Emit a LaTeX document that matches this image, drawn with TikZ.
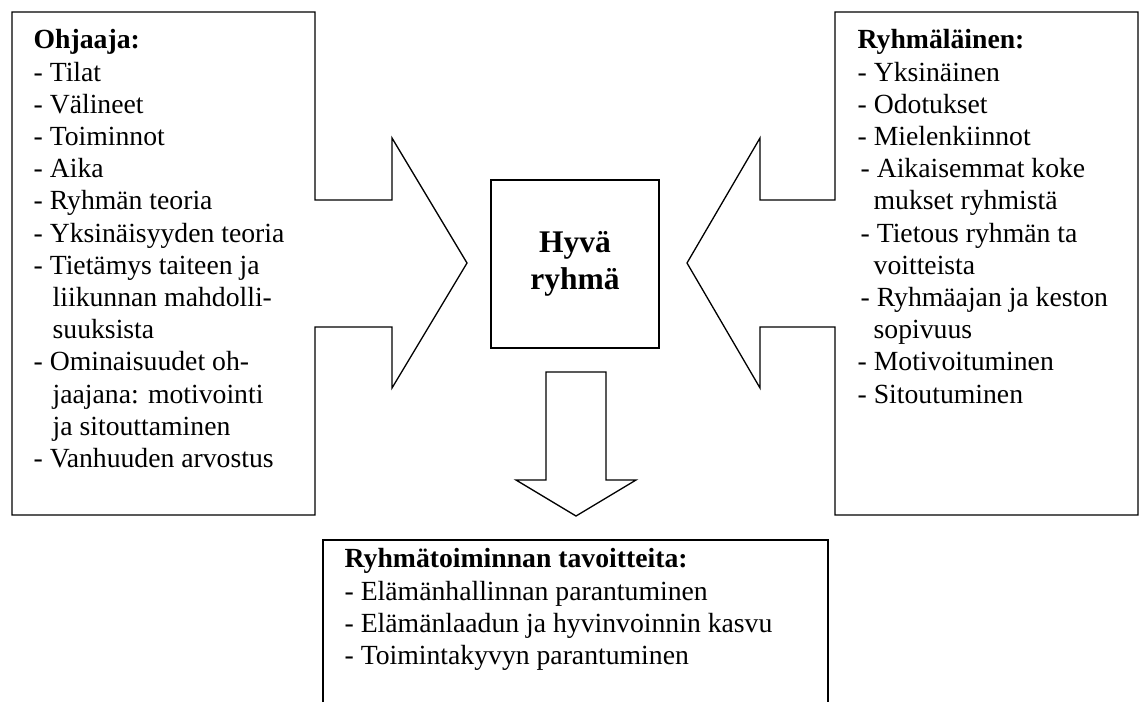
\documentclass[tikz,border=0pt]{standalone}
\usepackage{fontspec}
\setmainfont{Liberation Serif}
\begin{document}
\begin{tikzpicture}[
  x=1pt,
  y=-1pt,
  line width=1.3pt,
  every node/.style={inner sep=0pt},
  list text/.style={anchor=north west,align=left,font=\fontsize{27.7}{32.2}\selectfont},
  core box/.style={rectangle,draw,minimum width=168pt,minimum height=168pt,align=center,font=\fontsize{31.5}{37}\selectfont\bfseries},
]
\useasboundingbox (0,0) rectangle (1139,702);
\draw (12,12) -- (315,12) -- (315,200) -- (392,200) -- (392,138) -- (467,263) -- (392,388) -- (392,327) -- (315,327) -- (315,515) -- (12,515) -- cycle;
\draw (1138,12) -- (835,12) -- (835,200) -- (760,200) -- (760,138) -- (687,263) -- (760,388) -- (760,327) -- (835,327) -- (835,515) -- (1138,515) -- cycle;
\draw (546,372) -- (606,372) -- (606,480) -- (636,480) -- (576,516) -- (516,480) -- (546,480) -- cycle;
\draw (323,702) -- (323,540) -- (828,540) -- (828,702);
\node[core box] (good) at (575,264) {Hyvä\\ryhmä};
\node[list text] (leader) at (33,29) {\textbf{Ohjaaja:}\\
- Tilat\\
- Välineet\\
- Toiminnot\\
- Aika\\
- Ryhmän teoria\\
- Yksinäisyyden teoria\\
- Tietämys taiteen ja\\
\hspace{19pt}liikunnan mahdolli-\\
\hspace{19pt}suuksista\\
- Ominaisuudet oh-\\
\hspace{19pt}jaajana: motivointi\\
\hspace{19pt}ja sitouttaminen\\
- Vanhuuden arvostus};
\node[list text] (member) at (857,29) {\textbf{Ryhmäläinen:}\\
- Yksinäinen\\
- Odotukset\\
- Mielenkiinnot\\
\hspace{3pt}- Aikaisemmat koke\\
\hspace{16pt}mukset ryhmistä\\
\hspace{3pt}- Tietous ryhmän ta\\
\hspace{16pt}voitteista\\
\hspace{3pt}- Ryhmäajan ja keston\\
\hspace{16pt}sopivuus\\
- Motivoituminen\\
- Sitoutuminen};
\node[list text] (goals) at (344,548) {\textbf{Ryhmätoiminnan tavoitteita:}\\
- Elämänhallinnan parantuminen\\
- Elämänlaadun ja hyvinvoinnin kasvu\\
- Toimintakyvyn parantuminen};
\end{tikzpicture}
\end{document}
